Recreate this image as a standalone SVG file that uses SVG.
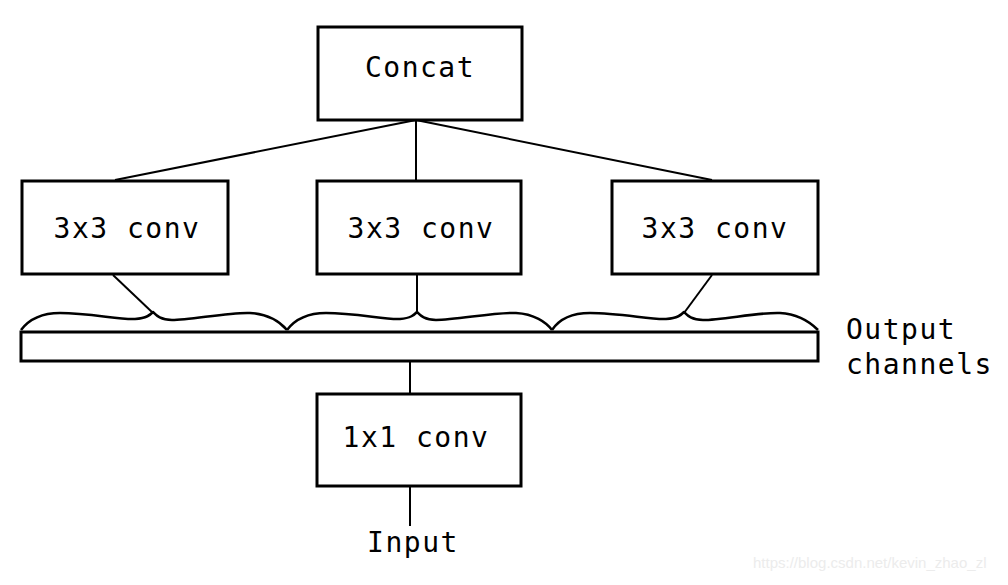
<svg xmlns="http://www.w3.org/2000/svg" width="1008" height="585" viewBox="0 0 1008 585">
<style>
.box{fill:#fff;stroke:#000;stroke-width:3}
.ln{fill:none;stroke:#000;stroke-width:2}
.br{fill:none;stroke:#000;stroke-width:2.5;stroke-linejoin:round}
.t{font-family:"DejaVu Sans Mono","Liberation Mono",monospace;font-size:28px;letter-spacing:1.5px;fill:#000;text-anchor:middle}
.tl{font-family:"DejaVu Sans Mono","Liberation Mono",monospace;font-size:28px;letter-spacing:1.5px;fill:#000}
.wm{font-family:"Liberation Sans",Arial,sans-serif;font-size:15px;fill:#ececec}
</style>
<rect width="1008" height="585" fill="#fff"/>
<g id="connectors">
<line class="ln" x1="416" y1="120" x2="115" y2="180"/>
<line class="ln" x1="416" y1="120" x2="416" y2="180"/>
<line class="ln" x1="416" y1="120" x2="712" y2="180"/>
<line class="ln" x1="113" y1="275" x2="153" y2="313"/>
<line class="ln" x1="417" y1="275" x2="417" y2="313"/>
<line class="ln" x1="712" y1="275" x2="684" y2="313"/>
<line class="ln" x1="410" y1="361" x2="410" y2="394"/>
<line class="ln" x1="410" y1="486" x2="410" y2="526"/>
</g>
<g id="braces">
<path class="br" d="M21,330 C30,318 42,313 60,313 C90,313 120,320 135,319 C147,318 150,315 153,312 C156,315 160,320 172,320 C190,320 230,312 250,313 C268,314 280,322 287,330"/>
<path class="br" d="M287,330 C296,318 308,313 326,313 C356,313 386,320 400,319 C411,318 414,315 417,312 C420,315 424,320 436,320 C456,320 496,312 516,313 C534,314 546,322 552,330"/>
<path class="br" d="M552,330 C560,318 572,313 590,313 C620,313 652,320 666,319 C678,318 681,315 684,312 C687,315 691,320 703,320 C722,320 760,312 780,313 C798,314 810,322 818,330"/>
</g>
<g id="concat">
<rect class="box" x="318" y="27" width="204" height="93"/>
<text class="t" x="420" y="77">Concat</text>
</g>
<g id="conv3a">
<rect class="box" x="22" y="181" width="206" height="93"/>
<text class="t" x="127" y="238">3x3 conv</text>
</g>
<g id="conv3b">
<rect class="box" x="317" y="181" width="204" height="93"/>
<text class="t" x="421" y="238">3x3 conv</text>
</g>
<g id="conv3c">
<rect class="box" x="612" y="181" width="206" height="93"/>
<text class="t" x="715" y="238">3x3 conv</text>
</g>
<g id="channels">
<rect class="box" x="21" y="332" width="797" height="29"/>
<text class="tl" x="846" y="339">Output</text>
<text class="tl" x="846" y="374">channels</text>
</g>
<g id="conv1">
<rect class="box" x="317" y="394" width="204" height="92"/>
<text class="t" x="416" y="447">1x1 conv</text>
</g>
<g id="input">
<text class="t" x="413" y="552">Input</text>
</g>
<text class="wm" x="753" y="568">https://blog.csdn.net/kevin_zhao_zl</text>
</svg>
